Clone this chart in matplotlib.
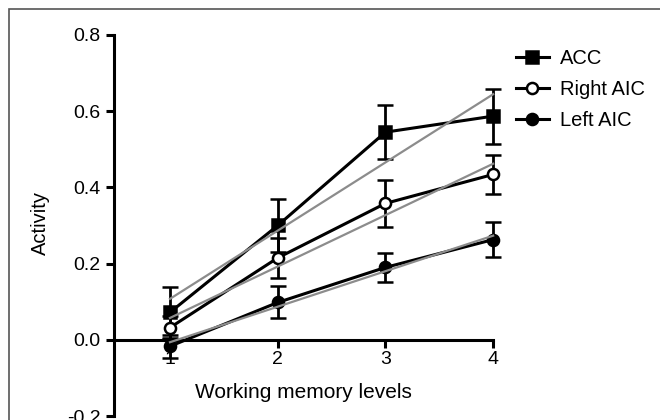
import matplotlib
matplotlib.use('Agg')
import matplotlib.pyplot as plt
from matplotlib.patches import Rectangle
from matplotlib.lines import Line2D
import numpy as np

plt.rcParams['font.family'] = ['Liberation Sans', 'DejaVu Sans']

# data
levels = [1, 2, 3, 4]
acc = [0.072, 0.300, 0.545, 0.587]
acc_err = [0.066, 0.070, 0.070, 0.072]
right_aic = [0.032, 0.215, 0.358, 0.434]
right_err = [0.030, 0.052, 0.062, 0.052]
left_aic = [-0.017, 0.098, 0.190, 0.263]
left_err = [0.030, 0.042, 0.038, 0.046]

series = [
    ('ACC', acc, acc_err, 's', 'black'),
    ('Right AIC', right_aic, right_err, 'o', 'white'),
    ('Left AIC', left_aic, left_err, 'o', 'black'),
]

fig = plt.figure(figsize=(6.6, 4.2), dpi=100)
ax = fig.add_axes([0.1727, 0.0095, 0.5745, 0.9072])

x = np.array(levels, dtype=float)
handles = []
for name, vals, err, mk, fc in series:
    ms = 8
    ax.errorbar(x, vals, yerr=err, color='black', lw=2.2, capsize=6,
                capthick=2, elinewidth=2, marker=mk, markersize=ms,
                markerfacecolor=fc, markeredgecolor='black', markeredgewidth=1.8,
                zorder=3, clip_on=False)
    # linear fit line (gray)
    k, b = np.polyfit(x, vals, 1)
    ax.plot([x[0], x[-1]], [k * x[0] + b, k * x[-1] + b], color='#8c8c8c',
            lw=1.6, zorder=4, clip_on=False)
    handles.append(Line2D([], [], color='black', lw=2.2, marker=mk, markersize=ms,
                          markerfacecolor=fc, markeredgecolor='black',
                          markeredgewidth=1.8, label=name))

ax.set_xlim(0.48, 4.0)
ax.set_ylim(-0.2, 0.8)
ax.set_xticks(levels)
ax.set_yticks([-0.2, 0.0, 0.2, 0.4, 0.6, 0.8])
ax.set_yticklabels(['-0.2', '0.0', '0.2', '0.4', '0.6', '0.8'])

ax.spines['top'].set_visible(False)
ax.spines['right'].set_visible(False)
ax.spines['left'].set_linewidth(2.2)
ax.spines['bottom'].set_linewidth(2.2)
ax.spines['bottom'].set_position(('data', 0))
ax.tick_params(axis='both', width=2.2, length=6, labelsize=14, direction='out')
ax.tick_params(axis='x', pad=2)
ax.patch.set_alpha(0)

ax.set_ylabel('Activity', fontsize=14.5)
ax.yaxis.set_label_coords(-0.17, 0.507)
ax.text(2.24, -0.137, 'Working memory levels', fontsize=15, ha='center',
        va='center', transform=ax.transData)

ax.legend(handles=handles, loc='upper left', bbox_to_anchor=(1.04, 0.985),
          frameon=False, fontsize=14.5, handlelength=1.6, handletextpad=0.55,
          labelspacing=0.6, borderaxespad=0)

fig.patches.append(Rectangle((9 / 660, -0.1), 1.2, 1.1 - 9 / 420,
                             transform=fig.transFigure, fill=False,
                             edgecolor='#555555', lw=1.2))

fig.savefig('out.png', dpi=100, facecolor='white')
